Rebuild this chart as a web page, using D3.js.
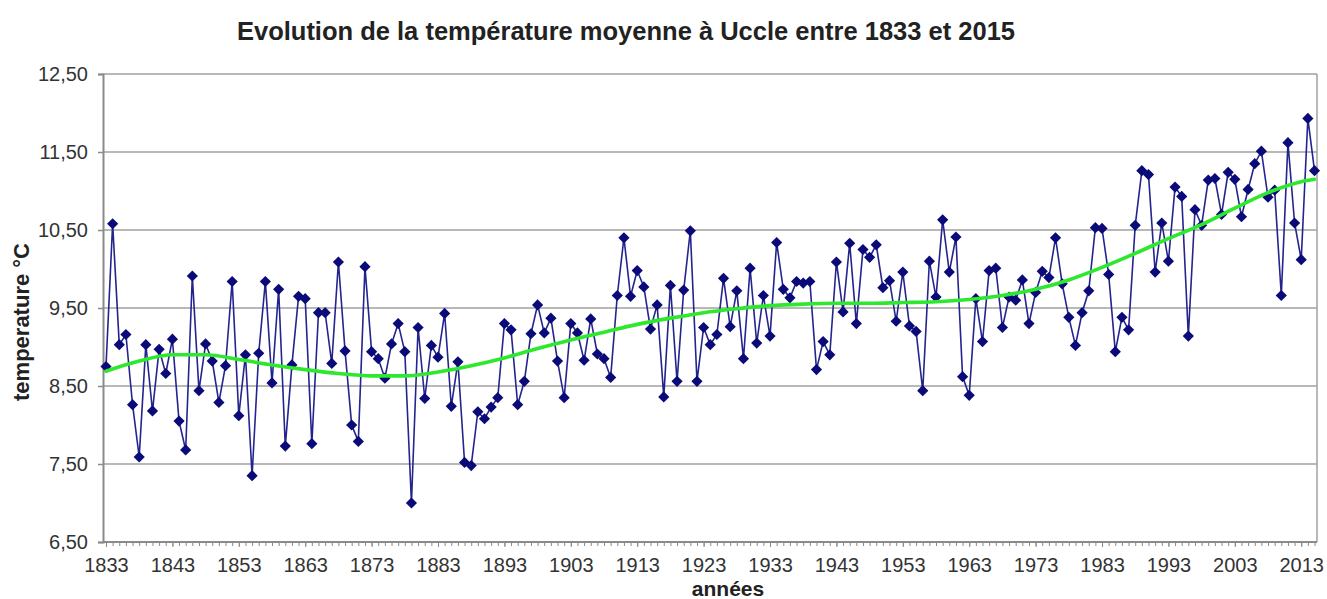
<!DOCTYPE html>
<html>
<head>
<meta charset="utf-8">
<script src="https://cdn.jsdelivr.net/npm/d3@7/dist/d3.min.js"></script>
<style>
	body { margin: 0; background: #fff; }
	svg { display: block; font-family: "Liberation Sans", Arial, sans-serif; }
	.tick text { fill: #333; font-size: 20px; }
</style>
</head>
<body>
<div id="chart"></div>
<script>
// annual mean temperature at Uccle, 1833..2015 (one value per year)
const startYear = 1833;
const temps = [
	8.75, 10.58, 9.03, 9.16, 8.26, 7.59, 9.03, 8.18, 8.97, 8.66,
	9.10, 8.05, 7.68, 9.91, 8.44, 9.04, 8.82, 8.29, 8.76, 9.84,
	8.12, 8.90, 7.35, 8.92, 9.84, 8.54, 9.74, 7.73, 8.77, 9.65,
	9.62, 7.76, 9.44, 9.44, 8.79, 10.09, 8.95, 8.00, 7.79, 10.03,
	8.94, 8.85, 8.60, 9.04, 9.30, 8.94, 7.00, 9.25, 8.34, 9.02,
	8.87, 9.43, 8.24, 8.81, 7.52, 7.48, 8.17, 8.08, 8.23, 8.35,
	9.30, 9.22, 8.26, 8.56, 9.17, 9.54, 9.18, 9.37, 8.82, 8.35,
	9.30, 9.18, 8.83, 9.36, 8.91, 8.85, 8.61, 9.66, 10.40, 9.65,
	9.98, 9.77, 9.23, 9.54, 8.36, 9.79, 8.56, 9.73, 10.49, 8.56,
	9.25, 9.03, 9.16, 9.88, 9.26, 9.72, 8.85, 10.01, 9.05, 9.66,
	9.14, 10.34, 9.74, 9.63, 9.84, 9.82, 9.84, 8.71, 9.07, 8.90,
	10.09, 9.45, 10.33, 9.30, 10.25, 10.15, 10.31, 9.76, 9.85, 9.33,
	9.96, 9.27, 9.20, 8.44, 10.10, 9.64, 10.63, 9.96, 10.41, 8.62,
	8.38, 9.62, 9.07, 9.98, 10.01, 9.25, 9.64, 9.60, 9.86, 9.30,
	9.70, 9.97, 9.89, 10.40, 9.81, 9.38, 9.02, 9.44, 9.72, 10.53,
	10.52, 9.93, 8.94, 9.38, 9.22, 10.56, 11.26, 11.21, 9.96, 10.59,
	10.10, 11.05, 10.93, 9.14, 10.76, 10.56, 11.14, 11.16, 10.70, 11.24,
	11.15, 10.67, 11.02, 11.35, 11.51, 10.92, 11.01, 9.66, 11.62, 10.59,
	10.12, 11.93, 11.26
];
const years = temps.map((t, i) => startYear + i);

// smoothed trend (green), read every 5 years
const trendYears = [1833, 1838, 1843, 1848, 1853, 1858, 1863, 1868, 1873, 1878,
	1883, 1888, 1893, 1898, 1903, 1908, 1913, 1918, 1923, 1928,
	1933, 1938, 1943, 1948, 1953, 1958, 1963, 1968, 1973, 1978,
	1983, 1988, 1993, 1998, 2003, 2008, 2013, 2015];
const trendTemps = [8.69, 8.82, 8.90, 8.90, 8.84, 8.77, 8.71, 8.66, 8.63, 8.63,
	8.68, 8.76, 8.86, 8.98, 9.09, 9.19, 9.29, 9.37, 9.44, 9.49,
	9.53, 9.55, 9.56, 9.56, 9.57, 9.58, 9.61, 9.66, 9.74, 9.86,
	10.02, 10.20, 10.39, 10.57, 10.78, 10.98, 11.12, 11.15];

const yTicks = [6.5, 7.5, 8.5, 9.5, 10.5, 11.5, 12.5];
const xLabelYears = d3.range(1833, 2014, 10);

const W = 1327, H = 599;
const plot = { left: 103, right: 1317, top: 74, bottom: 542 };

const svg = d3.select('#chart').append('svg')
	.attr('width', W)
	.attr('height', H)
	.attr('viewBox', `0 0 ${W} ${H}`);

const x = d3.scaleLinear()
	.domain([1833, 2015])
	.range([106, 1314.5]);

const y = d3.scaleLinear()
	.domain([6.5, 12.5])
	.range([plot.bottom, plot.top]);

// horizontal grid
svg.append('g')
	.selectAll('line')
	.data(yTicks)
	.enter()
	.append('line')
	.attr('x1', plot.left)
	.attr('x2', plot.right)
	.attr('y1', d => y(d))
	.attr('y2', d => y(d))
	.attr('stroke', '#a0a0a0')
	.attr('stroke-width', 1.5);

// right border
svg.append('line')
	.attr('x1', plot.right).attr('x2', plot.right)
	.attr('y1', plot.top).attr('y2', plot.bottom)
	.attr('stroke', '#a0a0a0')
	.attr('stroke-width', 1.5);

// y axis
const yAxis = svg.append('g')
	.attr('transform', `translate(${plot.left},0)`)
	.call(d3.axisLeft(y).tickValues(yTicks).tickSize(5).tickPadding(10)
		.tickFormat(d => d3.format('.2f')(d).replace('.', ',')));
yAxis.select('.domain').attr('stroke', '#8a8a8a').attr('stroke-width', 2);
yAxis.selectAll('.tick line').attr('stroke', '#8a8a8a').attr('stroke-width', 1.5);

// x axis: a minor tick for every year, labels every 10 years
const xMinor = svg.append('g')
	.attr('transform', `translate(0,${plot.bottom})`)
	.call(d3.axisBottom(x).tickValues(years).tickSize(4).tickFormat(''));
xMinor.select('.domain').remove();
xMinor.selectAll('.tick line').attr('stroke', '#8a8a8a');

const xAxis = svg.append('g')
	.attr('transform', `translate(0,${plot.bottom})`)
	.call(d3.axisBottom(x).tickValues(xLabelYears).tickSize(5).tickPadding(11).tickFormat(d3.format('d')));
xAxis.select('.domain')
	.attr('d', `M${plot.left},0H${plot.right}`)
	.attr('stroke', '#8a8a8a')
	.attr('stroke-width', 2);
xAxis.selectAll('.tick line').attr('stroke', '#8a8a8a');

// data line
const line = d3.line()
	.x((d, i) => x(years[i]))
	.y(d => y(d));

svg.append('path')
	.datum(temps)
	.attr('d', line)
	.attr('fill', 'none')
	.attr('stroke', '#24248f')
	.attr('stroke-width', 1.6);

const diamond = d3.symbol().type(d3.symbolDiamond2).size(80);
svg.append('g')
	.selectAll('path')
	.data(temps)
	.enter()
	.append('path')
	.attr('d', diamond)
	.attr('transform', (d, i) => `translate(${x(years[i])},${y(d)})`)
	.attr('fill', '#0a0a78');

// trend
const trendLine = d3.line()
	.x((d, i) => x(trendYears[i]))
	.y(d => y(d))
	.curve(d3.curveMonotoneX);

svg.append('path')
	.datum(trendTemps)
	.attr('d', trendLine)
	.attr('fill', 'none')
	.attr('stroke', '#2de82d')
	.attr('stroke-width', 3.6)
	.attr('stroke-linecap', 'round');

// titles
svg.append('text')
	.attr('x', 626)
	.attr('y', 40)
	.attr('text-anchor', 'middle')
	.attr('font-size', 25.5)
	.attr('font-weight', 'bold')
	.attr('fill', '#222')
	.text('Evolution de la température moyenne à Uccle entre 1833 et 2015');

svg.append('text')
	.attr('x', 728)
	.attr('y', 596)
	.attr('text-anchor', 'middle')
	.attr('font-size', 21)
	.attr('font-weight', 'bold')
	.attr('fill', '#222')
	.text('années');

svg.append('text')
	.attr('transform', 'translate(29,322) rotate(-90)')
	.attr('text-anchor', 'middle')
	.attr('font-size', 22)
	.attr('font-weight', 'bold')
	.attr('fill', '#222')
	.text('temperature °C');
</script>
</body>
</html>
